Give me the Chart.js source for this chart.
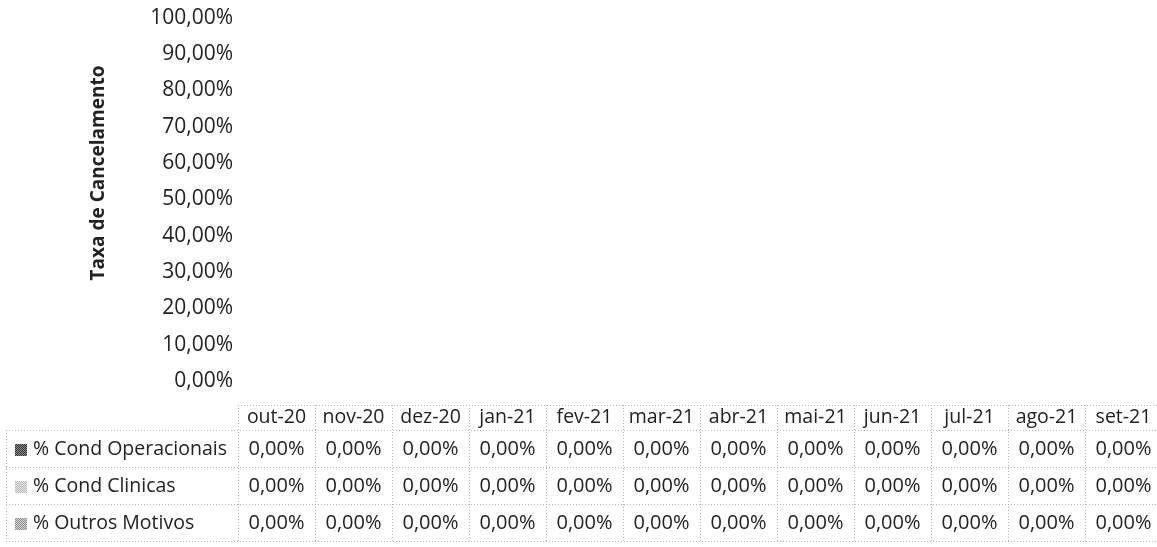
<!DOCTYPE html>
<html>
<head>
<meta charset="utf-8">
<script src="https://cdn.jsdelivr.net/npm/chart.js@4/dist/chart.umd.min.js"></script>
<style>
  html, body { margin: 0; padding: 0; overflow: hidden; background: #fff; }
  #wrap { width: 1162px; height: 547px; }
</style>
</head>
<body>
<div id="wrap"><canvas id="cancelamento"></canvas></div>
<script>
const months = ['out-20', 'nov-20', 'dez-20', 'jan-21', 'fev-21', 'mar-21', 'abr-21', 'mai-21', 'jun-21', 'jul-21', 'ago-21', 'set-21'];
const condOperacionais = [0, 0, 0, 0, 0, 0, 0, 0, 0, 0, 0, 0];
const condClinicas = [0, 0, 0, 0, 0, 0, 0, 0, 0, 0, 0, 0];
const outrosMotivos = [0, 0, 0, 0, 0, 0, 0, 0, 0, 0, 0, 0];
const yMax = 1;
const yStep = 0.1;

const FONT = '"Open Sans", sans-serif';
const pct = v => (v * 100).toFixed(2).replace('.', ',') + '%';

// small dithered fill for the legend keys
function dither(dark, light) {
  const c = document.createElement('canvas');
  c.width = 2; c.height = 2;
  const g = c.getContext('2d');
  g.fillStyle = light; g.fillRect(0, 0, 2, 2);
  g.fillStyle = dark; g.fillRect(0, 0, 1, 1); g.fillRect(1, 1, 1, 1);
  return g.createPattern(c, 'repeat');
}

// data table under the plot: header row of months, then one row per series
const dataTable = {
  id: 'dataTable',
  afterDraw(chart) {
    const ctx = chart.ctx;
    const x = chart.scales.x;
    const colW = x.width / months.length;
    const left = x.left;
    const right = x.right;
    const top = 405;
    const headH = 25;
    const rowH = 37;
    const rowTop = r => top + headH + r * rowH;

    ctx.save();
    ctx.strokeStyle = '#b5b5b5';
    ctx.lineWidth = 1;
    ctx.setLineDash([1, 2]);
    ctx.beginPath();
    // header top border only over the month columns
    ctx.moveTo(left, top + 0.5); ctx.lineTo(right, top + 0.5);
    for (let r = 0; r <= 3; r++) {
      const y = Math.round(rowTop(r)) + 0.5;
      ctx.moveTo(6, y); ctx.lineTo(right, y);
    }
    ctx.moveTo(6.5, rowTop(0)); ctx.lineTo(6.5, rowTop(3));
    for (let i = 0; i <= months.length; i++) {
      const xx = Math.round(left + i * colW) + 0.5;
      ctx.moveTo(xx, top); ctx.lineTo(xx, rowTop(3));
    }
    ctx.stroke();
    ctx.setLineDash([]);

    ctx.fillStyle = '#222';
    ctx.textAlign = 'center';
    ctx.textBaseline = 'middle';
    ctx.font = '19.5px ' + FONT;
    months.forEach((m, i) => {
      ctx.fillText(m, x.getPixelForValue(i), top + headH / 2);
    });

    chart.data.datasets.forEach((ds, r) => {
      const yc = rowTop(r) + rowH / 2 + 1;
      ctx.fillStyle = ds.keyFill;
      ctx.fillRect(15, Math.round(yc - 6), 12, 12);
      ctx.fillStyle = '#222';
      ctx.textAlign = 'left';
      ctx.font = '19.5px ' + FONT;
      ctx.fillText(ds.label, 33, yc);
      ctx.textAlign = 'center';
      ctx.font = '20px ' + FONT;
      ds.data.forEach((v, i) => {
        ctx.fillText(pct(v), x.getPixelForValue(i), yc);
      });
    });

    // axis title
    ctx.translate(99, 173);
    ctx.rotate(-Math.PI / 2);
    ctx.font = 'bold 19px ' + FONT;
    ctx.fillStyle = '#222';
    ctx.fillText('Taxa de Cancelamento', 0, 0);
    ctx.restore();
  }
};

new Chart(document.getElementById('cancelamento'), {
  type: 'bar',
  data: {
    labels: months,
    datasets: [
      { label: '% Cond Operacionais', data: condOperacionais, backgroundColor: '#6a6a6a', keyFill: dither('#333', '#8a8a8a') },
      { label: '% Cond Clinicas', data: condClinicas, backgroundColor: '#d2d2d2', keyFill: dither('#b8b8b8', '#e6e6e6') },
      { label: '% Outros Motivos', data: outrosMotivos, backgroundColor: '#a9a9a9', keyFill: dither('#8c8c8c', '#d4d4d4') }
    ]
  },
  options: {
    responsive: true,
    maintainAspectRatio: false,
    animation: false,
    layout: { padding: { top: 17, bottom: 166, left: 0, right: 0 } },
    plugins: { legend: { display: false }, tooltip: { enabled: false } },
    scales: {
      x: {
        stacked: true,
        display: false
      },
      y: {
        stacked: true,
        min: 0,
        max: yMax,
        afterFit(scale) { scale.width = 238; },
        grid: { display: false, drawTicks: false },
        border: { display: false },
        ticks: {
          stepSize: yStep,
          padding: 5,
          color: '#222',
          font: { family: FONT, size: 21 },
          callback: v => pct(v)
        }
      }
    }
  },
  plugins: [dataTable]
});
</script>
</body>
</html>
